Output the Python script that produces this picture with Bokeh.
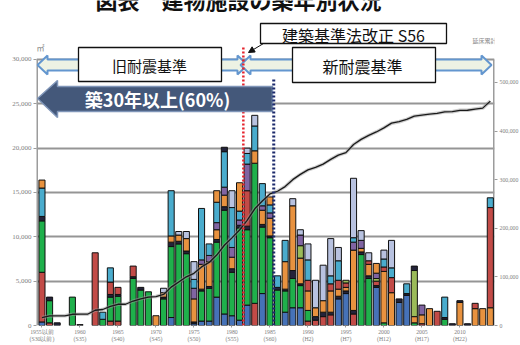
import numpy as np
from bokeh.plotting import figure
from bokeh.models import (Range1d, LinearAxis, FixedTicker, NumeralTickFormatter,
                          Label, Arrow, NormalHead)
from bokeh.embed import file_html
from bokeh.resources import INLINE

# ---- data: floor area by year of construction (thousand m2) ----
years = ["1955以前"] + [str(y) for y in range(1956, 2015)]
tick_labels = {0: "1955以前\n(S30以前)", 5: "1960\n(S35)", 10: "1965\n(S40)", 15: "1970\n(S45)",
               20: "1975\n(S50)", 25: "1980\n(S55)", 30: "1985\n(S60)", 35: "1990\n(H2)",
               40: "1995\n(H7)", 45: "2000\n(H12)", 50: "2005\n(H17)", 55: "2010\n(H22)"}

blue = [0.4, 0, 0, 0, 0, 0, 0, 0, 0, 0,
        0, 0, 0, 0, 0, 0, 0, 0.9, 0, 0,
        0.2, 0.5, 0.5, 3.2, 1.3, 1.1, 0.6, 2.3, 0, 3.6,
        0, 0, 1.5, 2.0, 2.0, 0, 0, 0, 0, 3.0,
        3.6, 0, 0, 0, 4.3, 0, 0, 2.6, 3.4, 0,
        0, 0, 0, 0, 0, 0, 0, 0, 0, 0]
red = [5.6, 0.3, 0, 0, 0, 0, 0, 8.2, 0, 0.5,
       0.5, 0, 0, 0, 0, 0, 0, 0, 0, 0,
       0, 0, 0, 0, 0, 0, 0, 0, 2.5, 0,
       0, 0, 0, 0, 0, 0.5, 0.6, 1.0, 1.2, 0,
       0, 1.3, 0, 0, 0, 0, 0, 0, 0, 0,
       0.2, 0, 1.6, 0, 0, 0, 0, 0, 0, 0]
green = [5.8, 2.5, 0, 0, 3.2, 0, 0, 0, 0.7, 2.7,
         2.8, 0, 5.3, 4.0, 3.8, 0, 3.0, 8.0, 9.2, 8.1,
         0, 3.4, 3.7, 6.2, 11.7, 4.9, 10.4, 8.5, 15.8, 7.5,
         9.9, 4.0, 2.4, 3.3, 2.5, 1.2, 0, 0, 0, 0,
         0, 0, 8.0, 5.3, 0, 0.3, 0, 0, 0, 0.3,
         0, 0, 0, 0.7, 0, 0, 0, 0, 0, 0]
dark = [0.5, 0.4, 0.3, 0, 0, 0.1, 0, 0, 0, 0.3,
        0.2, 0, 0.2, 0.3, 0, 0, 0.2, 0.5, 0.3, 0.3,
        0.2, 0.2, 0.2, 0.3, 0.4, 0.4, 0.3, 0.4, 0, 0.3,
        0.2, 0.3, 0.2, 0.9, 0.2, 0, 0.4, 0.5, 0.3, 0.3,
        0.3, 0.4, 0.3, 0.3, 0.2, 0, 0, 0.4, 0.2, 0,
        0, 0, 0, 0.2, 0.2, 0, 0.2, 0, 0, 0]
orange = [0, 0, 0, 0, 0, 0, 0, 0, 0, 0,
          0, 0, 0, 0, 0, 1.1, 0.5, 0.7, 0.7, 1.4,
          2.6, 2.8, 2.8, 1.1, 1.3, 1.3, 0, 0, 1.4, 1.6,
          2.0, 0, 3.1, 7.3, 2.9, 2.2, 1.0, 1.3, 2.4, 0.8,
          0.4, 6.8, 0.4, 1.3, 0, 5.8, 3.7, 0, 0, 0.7,
          1.0, 1.9, 0, 0, 0, 2.6, 0, 1.9, 1.9, 2.0]
red_upper = [0, 0, 0, 0, 0, 0, 0, 0, 0, 1.4,
             0.8, 0, 1.2, 0, 0, 0, 0, 0, 0, 0,
             0, 0, 0, 0, 0, 0, 0, 4.0, 0, 0,
             0, 0, 0, 0, 0, 1.2, 0, 0, 0.8, 1.0,
             0.5, 0, 0, 0.4, 0.5, 0.5, 1.7, 0, 0, 0,
             0, 0, 0, 0, 0, 0, 0, 0.6, 0, 11.3]
olive = [0, 0, 0, 0, 0, 0, 0, 0, 0, 0,
         0, 0, 0, 0, 0, 0, 0, 0, 0, 0,
         0, 0, 0, 0, 0, 0, 0, 0, 0, 0,
         0, 0, 0, 0, 1.4, 0, 0, 0, 0, 0,
         0.3, 0, 0, 0, 0.3, 0, 0, 0, 0, 5.2,
         0, 0, 0, 0, 0, 0, 0, 0, 0, 0]
purple = [0, 0, 0, 0, 0, 0, 0, 0, 0, 0,
          0, 0, 0, 0, 0, 0, 0, 0, 0, 0,
          1.2, 0.5, 0.7, 0.8, 0.9, 1.1, 0.6, 3.0, 0, 0.5,
          0.6, 0, 0, 0, 1.2, 0, 0, 0, 0, 0,
          0, 0.9, 0.9, 0, 0.6, 0, 0, 0, 0, 0,
          1.1, 0, 0, 0, 0, 0, 0, 0, 0, 0]
cyan = [3.2, 0, 0, 0, 0, 0, 0, 0, 0.8, 1.6,
        0, 0, 0, 0, 0, 0, 0, 5.1, 0, 0,
        1.0, 5.8, 1.3, 2.3, 4.0, 4.5, 1.0, 1.2, 2.8, 2.5,
        0.9, 1.3, 2.4, 0, 0, 2.3, 0, 0, 0.9, 2.2,
        0, 0.5, 0, 0, 0, 0.9, 1.1, 0, 1.1, 0,
        0, 0, 0, 2.3, 0, 0, 0, 0, 0, 1.1]
lavender = [0, 0, 0, 0, 0, 0, 0, 0, 0, 0,
            0, 0, 0, 0, 0, 0, 0.5, 0, 0.4, 0.8,
            2.0, 0, 0, 0, 0, 1.9, 0, 0.6, 1.2, 0,
            0, 0, 0, 0.8, 0.6, 1.8, 3.1, 4.0, 4.2, 1.5,
            0, 6.7, 1.1, 0.9, 0, 1.0, 3.1, 0, 0, 0,
            0, 0, 0, 0, 0, 0, 0, 0, 0, 0]
orange_top = [0.9, 0, 0, 0, 0, 0, 0, 0, 0, 0,
              0, 0, 0, 0, 0, 0, 0, 0, 0, 0,
              0, 0, 0, 1.3, 0, 0, 3.2, 0, 0, 0,
              0.9, 0, 0, 0, 0, 0, 0, 0, 0, 0,
              0, 0, 0, 0, 1.1, 0, 0, 0, 0, 0,
              0, 0, 0, 0, 0, 0, 0, 0, 0, 0]
dark_top = [0, 0, 0, 0, 0, 0, 0, 0, 0, 0,
            0, 0, 0, 0, 0, 0, 0, 0, 0, 0,
            0, 0, 0, 0, 0.5, 0, 0, 0, 0, 0,
            0, 0, 0, 0, 0, 0, 0, 0, 0, 0,
            0, 0, 0, 0, 0, 0, 0, 0, 0, 0.5,
            0, 0, 0, 0, 0, 0.2, 0, 0, 0, 0]

BLUE, RED, GREEN, DARK = "#4672b8", "#c24b47", "#1fb04b", "#23233a"
ORANGE, OLIVE, PURPLE, CYAN, LAV = "#e8923f", "#9bbb59", "#8064a2", "#4aaccd", "#b8c2e0"
stack = [(blue, BLUE), (red, RED), (green, GREEN), (dark, DARK), (orange, ORANGE),
         (red_upper, RED), (olive, OLIVE), (purple, PURPLE), (cyan, CYAN),
         (lavender, LAV), (orange_top, ORANGE), (dark_top, DARK)]

n = len(years)
seg_x, seg_bottom, seg_top, seg_color = [], [], [], []
base = np.zeros(n)
for vals, col in stack:
    v = np.asarray(vals, dtype=float) * 1000.0
    for i in range(n):
        if v[i] > 0:
            seg_x.append(i)
            seg_bottom.append(base[i])
            seg_top.append(base[i] + v[i])
            seg_color.append(col)
    base = base + v
totals = base
cumulative = np.cumsum(totals)

# ---- frame geometry ----
FRAME_LEFT, FRAME_W, FRAME_H = 36, 458, 325
X_LO, X_HI = -0.72, 59.55
Y_TOP = 36650
CUM_TOP = 668700


def dx(px):
    return X_LO + (px - FRAME_LEFT) * (X_HI - X_LO) / FRAME_W


def dy(py):
    return (FRAME_H - py) * Y_TOP / FRAME_H


JP = "Noto Sans CJK JP"

p = figure(frame_width=FRAME_W, frame_height=FRAME_H,
           min_border_left=FRAME_LEFT, min_border_top=0, min_border_bottom=0, min_border_right=0,
           x_range=Range1d(X_LO, X_HI), y_range=Range1d(0, Y_TOP),
           output_backend="svg", toolbar_location=None)
p.extra_y_ranges = {"cum": Range1d(0, CUM_TOP)}
p.outline_line_color = None
p.background_fill_color = "white"
p.border_fill_color = "white"

left_ticks = [0, 5000, 10000, 15000, 20000, 25000, 30000]
p.xgrid.visible = False
p.ygrid.ticker = FixedTicker(ticks=left_ticks)
p.ygrid.grid_line_color = "#959595"
p.ygrid.grid_line_width = 2

ya = p.yaxis[0]
ya.ticker = FixedTicker(ticks=left_ticks)
ya.formatter = NumeralTickFormatter(format="0,0")

ra = LinearAxis(y_range_name="cum", ticker=FixedTicker(ticks=[0, 100000, 200000, 300000, 400000, 500000]),
                formatter=NumeralTickFormatter(format="0,0"))
p.add_layout(ra, "right")

xa = p.xaxis[0]
xa.ticker = FixedTicker(ticks=sorted(tick_labels))
xa.major_label_overrides = tick_labels

for ax in (ya, ra, xa):
    ax.axis_line_color = None
    ax.major_tick_line_color = "#9c9c9c"
    ax.major_tick_in = 0
    ax.major_tick_out = 3
    ax.minor_tick_line_color = None
    ax.major_label_text_font = "Liberation Serif"
    ax.major_label_text_font_size = "7px"
    ax.major_label_text_color = "#808080"
    ax.major_label_standoff = 2

xa.major_label_text_font_size = "5.8px"
xa.major_tick_out = 2
xa.major_label_standoff = 1
ra.major_label_text_font_size = "5.8px"

# frame sides
p.segment(x0=[X_LO, X_HI], y0=[0, 0], x1=[X_LO, X_HI], y1=[30000, 30000],
          line_color="#9c9c9c", line_width=3)

# stacked bars
p.vbar(x=seg_x, bottom=seg_bottom, top=seg_top, width=0.8,
       fill_color=seg_color, line_color="#111111", line_width=1)

# cumulative floor area (right axis)
idx = list(range(n))
p.line(idx, cumulative, y_range_name="cum", line_color="#9a9a9a", line_width=3.5, line_alpha=0.5)
p.line(idx, cumulative, y_range_name="cum", line_color="#1a1a1a", line_width=1.3)


# double block arrows for the two seismic standards
def double_arrow(x0, x1, yc, half_shaft, half_head, head_len):
    pts = [(x0, yc), (x0 + head_len, yc - half_head), (x0 + head_len, yc - half_shaft),
           (x1 - head_len, yc - half_shaft), (x1 - head_len, yc - half_head), (x1, yc),
           (x1 - head_len, yc + half_head), (x1 - head_len, yc + half_shaft),
           (x0 + head_len, yc + half_shaft), (x0 + head_len, yc + half_head)]
    return [dx(a) for a, _ in pts], [dy(b) for _, b in pts]


for x0, x1 in ((37, 247), (240, 491)):
    axs, ays = double_arrow(x0, x1, 64.5, 5.5, 9.5, 10)
    p.patch(axs, ays, fill_color="#edf2e4", line_color="#6396cf", line_width=2)

reform_x = years.index("1981") + 0.5
age30_x = years.index("1985") + 0.5

p.segment(x0=[reform_x], y0=[0], x1=[reform_x], y1=[dy(45)],
          line_color="#e5232c", line_width=2.5, line_dash="2 2")

# "30 years or older" block arrow
ap = [(37, 98), (57, 80), (57, 86), (272, 86), (272, 111), (57, 111), (57, 117)]
p.patch([dx(a) for a, _ in ap], [dy(b) for _, b in ap],
        fill_color="#44587a", line_color="#7f95b8", line_width=1.5)

p.segment(x0=[age30_x], y0=[0], x1=[age30_x], y1=[dy(78)],
          line_color="#1c2a6c", line_width=3, line_dash="2 2")

# text boxes
for l, r, t, b in ((78, 221, 47, 81), (292, 435, 47, 82), (260, 446, 23, 43)):
    p.quad(left=[dx(l)], right=[dx(r)], top=[dy(t)], bottom=[dy(b)],
           fill_color="white", line_color="#111111", line_width=1.3)


def label(px, py, text, size, color="#111111", style="normal", align="center", baseline="middle"):
    p.add_layout(Label(x=dx(px), y=dy(py), text=text, text_font=JP, text_font_size=size,
                       text_color=color, text_font_style=style, text_align=align,
                       text_baseline=baseline))


label(149, 65, "旧耐震基準", "15px")
label(362, 65, "新耐震基準", "16px")
label(353, 34, "建築基準法改正 S56", "16px")
label(157, 98, "築30年以上(60%)", "18px", color="white", style="bold")
label(238, -2, "図表　建物施設の築年別状況", "22px", style="bold", baseline="alphabetic")
label(40, 47, "㎡", "8px", color="#8a8a8a")
label(505, 51, "㎡", "8px", color="#8a8a8a")
label(484, 40, "延床累計", "6px", color="#8a8a8a")

p.add_layout(Arrow(end=NormalHead(size=6, fill_color="#111111", line_color="#111111"),
                   x_start=dx(263), y_start=dy(43), x_end=dx(248), y_end=dy(52),
                   line_color="#111111", line_width=1))

open("out.html", "w").write(file_html(p, INLINE))
